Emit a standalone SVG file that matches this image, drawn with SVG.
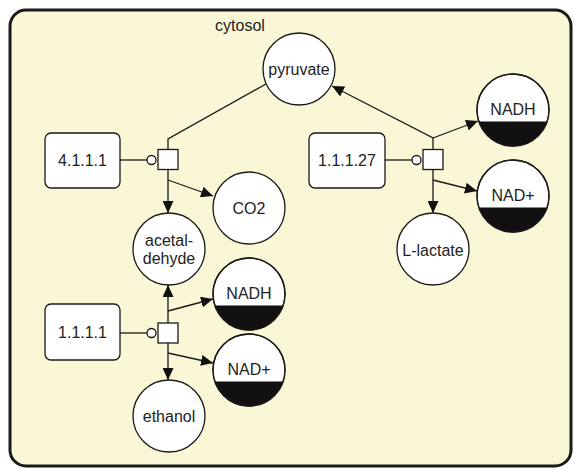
<svg xmlns="http://www.w3.org/2000/svg" width="574" height="469" viewBox="0 0 574 469">
<defs>
<marker id="arr" viewBox="0 0 12 11" refX="12" refY="5.5" markerWidth="12" markerHeight="11" markerUnits="userSpaceOnUse" orient="auto">
<path d="M0,0 L12,5.5 L0,11 Z" fill="#111"/>
</marker>
</defs>
<style>
.comp{fill:#faf7d6;stroke:#1a1a1a;stroke-width:3}
.node{fill:#fff;stroke:#1a1a1a;stroke-width:1.3}
.blk{fill:#111;stroke:none}
.t{font-family:"Liberation Sans",Arial,sans-serif;font-size:16px;fill:#222;text-anchor:middle;dominant-baseline:central}
.e{fill:none;stroke:#1a1a1a;stroke-width:1.3}
.cat{fill:#fff;stroke:#1a1a1a;stroke-width:1.3}
</style>
<g id="cytosol">
<rect class="comp" x="10" y="10" width="561" height="456" rx="16"/>
<text class="t" x="240" y="25">cytosol</text>
</g>
<g id="connectors">
<polyline class="e" points="266,84 168,139 168,149"/>
<polyline class="e" points="168,170 168,213" marker-end="url(#arr)"/>
<line class="e" x1="168" y1="180" x2="213" y2="196" marker-end="url(#arr)"/>
<line class="e" x1="120" y1="160" x2="147" y2="160"/>
<circle class="cat" cx="151.5" cy="160" r="4.5"/>
<line class="e" x1="168" y1="323" x2="168" y2="285" marker-end="url(#arr)"/>
<line class="e" x1="168" y1="311" x2="213" y2="299" marker-end="url(#arr)"/>
<polyline class="e" points="168,343 168,380" marker-end="url(#arr)"/>
<line class="e" x1="168" y1="353" x2="213" y2="363" marker-end="url(#arr)"/>
<line class="e" x1="120" y1="333" x2="147" y2="333"/>
<circle class="cat" cx="151.5" cy="333" r="4.5"/>
<polyline class="e" points="433,149 433,138 332,86" marker-end="url(#arr)"/>
<line class="e" x1="433" y1="138" x2="478" y2="121" marker-end="url(#arr)"/>
<polyline class="e" points="433,170 433,213" marker-end="url(#arr)"/>
<line class="e" x1="433" y1="180" x2="477" y2="191" marker-end="url(#arr)"/>
<line class="e" x1="385" y1="160" x2="412" y2="160"/>
<circle class="cat" cx="416.5" cy="160" r="4.5"/>
</g>
<g id="r1"><rect class="node" x="158" y="149.5" width="20" height="20"/></g>
<g id="r2"><rect class="node" x="158" y="323" width="20" height="20"/></g>
<g id="r3"><rect class="node" x="423" y="149.5" width="20" height="20"/></g>
<g id="pyruvate"><circle class="node" cx="299" cy="69" r="36"/><text class="t" x="299" y="69">pyruvate</text></g>
<g id="e4111"><rect class="node" x="45" y="133" width="75" height="55" rx="6"/><text class="t" x="82.5" y="160.5">4.1.1.1</text></g>
<g id="CO2"><circle class="node" cx="249" cy="208" r="36"/><text class="t" x="249" y="208">CO2</text></g>
<g id="acetaldehyde"><circle class="node" cx="169" cy="249" r="36"/><text class="t" x="169" y="240">acetal-</text><text class="t" x="169" y="258">dehyde</text></g>
<g id="NADH1"><circle class="node" cx="249" cy="294" r="36"/><path class="blk" d="M214.9,305.5 A36,36 0 0 0 283.1,305.5 Z"/><circle cx="249" cy="294" r="36" fill="none" stroke="#1a1a1a" stroke-width="1.3"/><text class="t" x="249" y="293">NADH</text></g>
<g id="e1111"><rect class="node" x="45" y="304" width="75" height="56" rx="6"/><text class="t" x="82.5" y="332">1.1.1.1</text></g>
<g id="NADp1"><circle class="node" cx="249" cy="370" r="36"/><path class="blk" d="M214.9,381.5 A36,36 0 0 0 283.1,381.5 Z"/><circle cx="249" cy="370" r="36" fill="none" stroke="#1a1a1a" stroke-width="1.3"/><text class="t" x="249" y="369">NAD+</text></g>
<g id="ethanol"><circle class="node" cx="169" cy="416" r="36"/><text class="t" x="169" y="416">ethanol</text></g>
<g id="e11127"><rect class="node" x="309" y="133" width="76" height="55" rx="6"/><text class="t" x="347" y="160.5">1.1.1.27</text></g>
<g id="NADH2"><circle class="node" cx="513" cy="110" r="36"/><path class="blk" d="M478.9,121.5 A36,36 0 0 0 547.1,121.5 Z"/><circle cx="513" cy="110" r="36" fill="none" stroke="#1a1a1a" stroke-width="1.3"/><text class="t" x="513" y="109">NADH</text></g>
<g id="NADp2"><circle class="node" cx="513" cy="196" r="36"/><path class="blk" d="M478.9,207.5 A36,36 0 0 0 547.1,207.5 Z"/><circle cx="513" cy="196" r="36" fill="none" stroke="#1a1a1a" stroke-width="1.3"/><text class="t" x="513" y="195">NAD+</text></g>
<g id="Llactate"><circle class="node" cx="433" cy="249" r="36"/><text class="t" x="433" y="250">L-lactate</text></g>
</svg>
